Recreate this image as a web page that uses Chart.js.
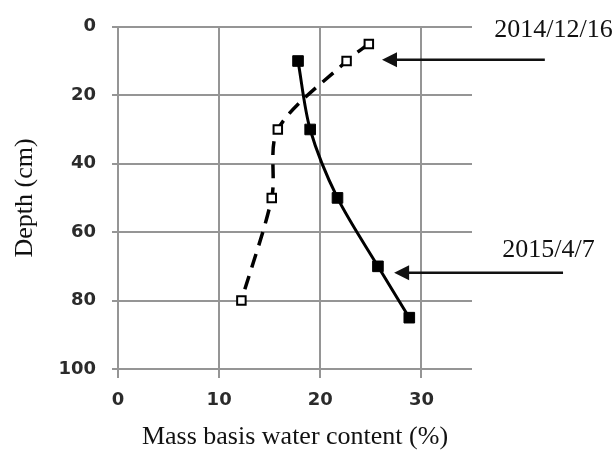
<!DOCTYPE html>
<html>
<head>
<meta charset="utf-8">
<script src="https://cdn.jsdelivr.net/npm/chart.js@4.4.0/dist/chart.umd.min.js"></script>
<style>
  html, body { margin: 0; padding: 0; background: #fff; }
</style>
</head>
<body>
<canvas id="chart" width="614" height="453"></canvas>
<script>
// 2014/12/16 profile (dashed, open squares)
const depths1 = [5, 10, 30, 50, 80];
const water1 = [24.8, 22.6, 15.8, 15.2, 12.2];
// 2015/4/7 profile (solid, filled squares)
const depths2 = [10, 30, 50, 70, 85];
const water2 = [17.8, 19.0, 21.7, 25.7, 28.8];

const xTicks = [0, 10, 20, 30];
const yTicks = [0, 20, 40, 60, 80, 100];
const seriesNames = ["2014/12/16", "2015/4/7"];

// date labels and arrows, in data units
const labelAt = [{ x: 37.2, y: 0.9 }, { x: 38, y: 65.2 }];
const arrowFrom = [{ x: 42.2, y: 9.6 }, { x: 44, y: 71.9 }];
const arrowTo = [{ x: 26.1, y: 9.6 }, { x: 27.3, y: 71.9 }];

function toPoints(xs, ys) {
  return xs.map((v, i) => ({ x: v, y: ys[i] }));
}

const arrowLabels = {
  id: "arrowLabels",
  afterDraw(chart) {
    const { ctx } = chart;
    const x = chart.scales.x, y = chart.scales.y;
    ctx.save();
    ctx.fillStyle = "#111";
    ctx.strokeStyle = "#111";
    ctx.font = "26px 'Liberation Serif'";
    ctx.textBaseline = "middle";
    ctx.textAlign = "left";
    seriesNames.forEach((name, i) => {
      ctx.fillText(name, x.getPixelForValue(labelAt[i].x), y.getPixelForValue(labelAt[i].y));
      const x0 = x.getPixelForValue(arrowFrom[i].x);
      const y0 = y.getPixelForValue(arrowFrom[i].y);
      const x1 = x.getPixelForValue(arrowTo[i].x);
      const y1 = y.getPixelForValue(arrowTo[i].y);
      ctx.lineWidth = 2.5;
      ctx.beginPath();
      ctx.moveTo(x0, y0);
      ctx.lineTo(x1 + 10, y1);
      ctx.stroke();
      // arrow head
      ctx.beginPath();
      ctx.moveTo(x1, y1);
      ctx.lineTo(x1 + 15, y1 - 7.5);
      ctx.lineTo(x1 + 15, y1 + 7.5);
      ctx.closePath();
      ctx.fill();
    });
    ctx.restore();
  }
};

const tickFont = { family: "'DejaVu Sans'", size: 18, weight: "bold" };
const gridStyle = { color: "#959595", lineWidth: 2 };

new Chart(document.getElementById("chart"), {
  type: "scatter",
  data: {
    datasets: [
      {
        label: seriesNames[0],
        data: toPoints(water1, depths1),
        showLine: true,
        borderColor: "#000",
        borderWidth: 3.5,
        borderDash: [14, 9],
        tension: 0.3,
        pointStyle: "rect",
        pointRadius: 6,
        pointBackgroundColor: "#fff",
        pointBorderColor: "#000",
        pointBorderWidth: 2
      },
      {
        label: seriesNames[1],
        data: toPoints(water2, depths2),
        showLine: true,
        borderColor: "#000",
        borderWidth: 3,
        tension: 0.3,
        pointStyle: "rect",
        pointRadius: 7.5,
        pointBackgroundColor: "#000",
        pointBorderColor: "#000",
        pointBorderWidth: 1
      }
    ]
  },
  options: {
    responsive: false,
    animation: false,
    layout: { padding: { top: 24, right: 142, left: 0, bottom: 0 } },
    plugins: {
      legend: { display: false },
      tooltip: { enabled: false }
    },
    scales: {
      x: {
        type: "linear",
        min: 0,
        max: 35,
        afterBuildTicks: (s) => { s.ticks = xTicks.map((v) => ({ value: v })); },
        afterFit: (s) => { s.height = 84; },
        grid: { ...gridStyle, tickLength: 9 },
        border: { display: false },
        ticks: { font: tickFont, color: "#2b2b2b", padding: 12, maxRotation: 0 },
        title: {
          display: true,
          text: "Mass basis water content (%)",
          font: { family: "'Liberation Serif'", size: 26 },
          color: "#111",
          padding: 0
        }
      },
      y: {
        type: "linear",
        reverse: true,
        min: 0,
        max: 100,
        afterBuildTicks: (s) => { s.ticks = yTicks.map((v) => ({ value: v })); },
        afterFit: (s) => { s.width = 118; },
        grid: { ...gridStyle, tickLength: 6 },
        border: { display: false },
        ticks: { font: tickFont, color: "#2b2b2b", padding: 16 },
        title: {
          display: true,
          text: "Depth (cm)",
          font: { family: "'Liberation Serif'", size: 26 },
          color: "#111",
          padding: { top: 10, bottom: 0 }
        }
      }
    }
  },
  plugins: [arrowLabels]
});
</script>
</body>
</html>
